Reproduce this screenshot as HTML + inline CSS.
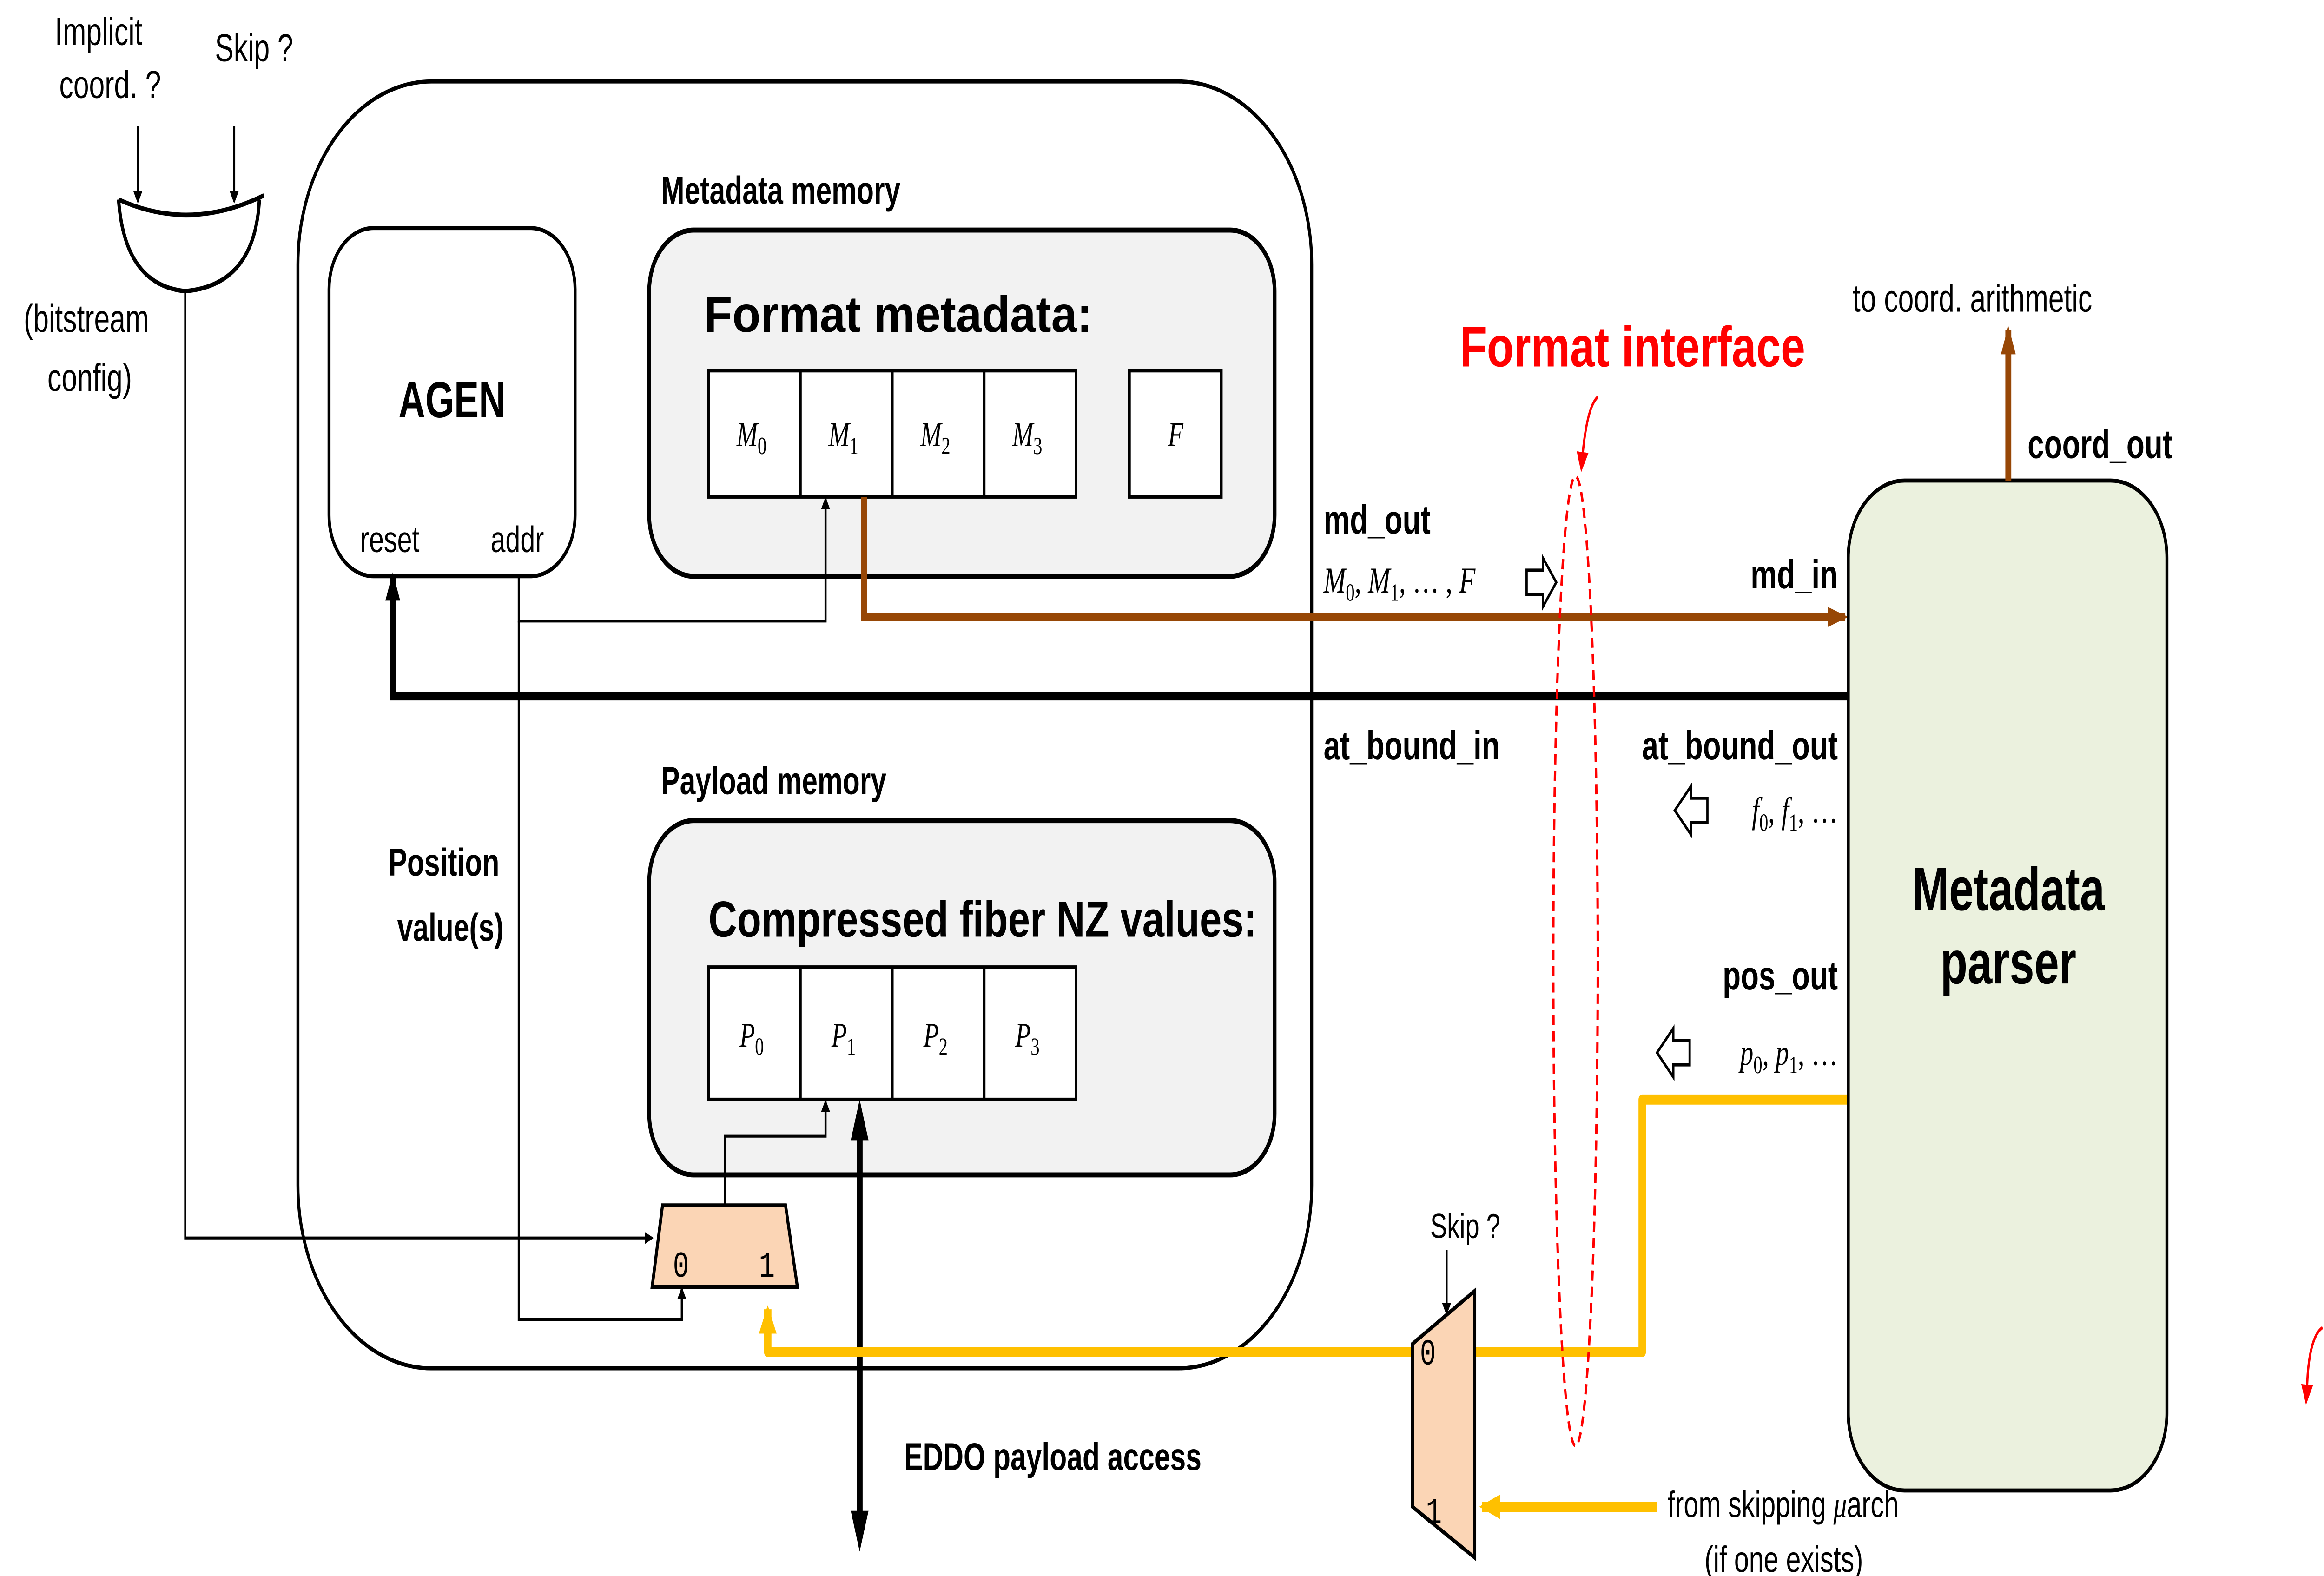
<!DOCTYPE html>
<html><head><meta charset="utf-8"><style>html,body{margin:0;padding:0;background:#fff;overflow:hidden;width:100%;height:100%}svg{display:block;width:100vw;height:100vh}</style></head>
<body>
<svg viewBox="0 0 1568 774" preserveAspectRatio="none" xmlns="http://www.w3.org/2000/svg" font-family="Liberation Sans, sans-serif">
<defs>
<marker id="ak" markerWidth="6" markerHeight="6" refX="5" refY="3" orient="auto" markerUnits="userSpaceOnUse" viewBox="0 0 6 6"><path d="M0,0 L6,3 L0,6 z" fill="#000"/></marker>
<marker id="akb" markerWidth="14" markerHeight="10" refX="12" refY="5" orient="auto" markerUnits="userSpaceOnUse"><path d="M0,0 L14,5 L0,10 z" fill="#000"/></marker>
<marker id="abr" markerWidth="14" markerHeight="10" refX="12" refY="5" orient="auto" markerUnits="userSpaceOnUse"><path d="M0,0 L14,5 L0,10 z" fill="#974706"/></marker>
<marker id="ay" markerWidth="14" markerHeight="12" refX="12" refY="6" orient="auto" markerUnits="userSpaceOnUse"><path d="M0,0 L14,6 L0,12 z" fill="#ffc000"/></marker>
<marker id="ar" markerWidth="10" markerHeight="8" refX="8" refY="4" orient="auto" markerUnits="userSpaceOnUse"><path d="M0,0 L10,4 L0,8 z" fill="#f00"/></marker>
</defs>

<text x="37" y="22" font-size="19">Implicit</text>
<text x="40" y="48" font-size="19">coord. ?</text>
<text x="145" y="30" font-size="19">Skip ?</text>
<line x1="93" y1="62" x2="93" y2="99" stroke="#000" stroke-width="1.4" marker-end="url(#ak)"/>
<line x1="158" y1="62" x2="158" y2="99" stroke="#000" stroke-width="1.4" marker-end="url(#ak)"/>
<path d="M80,98 Q128,114 178,96 M80,98 Q84,140 125,143 Q172,140 175,98" fill="none" stroke="#000" stroke-width="2.2"/>
<text x="16" y="163" font-size="19">(bitstream</text>
<text x="32" y="192" font-size="19">config)</text>
<polyline points="125,143 125,608 440,608" fill="none" stroke="#000" stroke-width="1.4" marker-end="url(#ak)"/>

<rect x="201" y="40" width="684" height="632" rx="90" ry="90" fill="none" stroke="#000" stroke-width="2"/>

<rect x="222" y="112" width="166" height="171" rx="30" fill="#fff" stroke="#000" stroke-width="2"/>
<text x="305" y="205" font-size="25" font-weight="bold" text-anchor="middle">AGEN</text>
<text x="243" y="271" font-size="18">reset</text>
<text x="331" y="271" font-size="18">addr</text>

<text x="446" y="100" font-size="19" font-weight="bold">Metadata memory</text>
<rect x="438" y="113" width="422" height="170" rx="30" fill="#f2f2f2" stroke="#000" stroke-width="2.5"/>
<text x="475" y="163" font-size="25" font-weight="bold" textLength="262" lengthAdjust="spacingAndGlyphs">Format metadata:</text>
<g stroke="#000" stroke-width="1.8" fill="#fff">
<rect x="478" y="182" width="248" height="62"/>
<line x1="540" y1="182" x2="540" y2="244"/><line x1="602" y1="182" x2="602" y2="244"/><line x1="664" y1="182" x2="664" y2="244"/>
<rect x="762" y="182" width="62" height="62"/>
</g>
<g font-family="Liberation Serif, serif" font-style="italic" font-size="17">
<text x="497" y="219">M<tspan font-size="12" font-style="normal" dy="4">0</tspan></text>
<text x="559" y="219">M<tspan font-size="12" font-style="normal" dy="4">1</tspan></text>
<text x="621" y="219">M<tspan font-size="12" font-style="normal" dy="4">2</tspan></text>
<text x="683" y="219">M<tspan font-size="12" font-style="normal" dy="4">3</tspan></text>
<text x="788" y="219">F</text>
</g>

<text x="446" y="390" font-size="19" font-weight="bold">Payload memory</text>
<rect x="438" y="403" width="422" height="174" rx="30" fill="#f2f2f2" stroke="#000" stroke-width="2.5"/>
<text x="478" y="460" font-size="25" font-weight="bold" textLength="370" lengthAdjust="spacingAndGlyphs">Compressed fiber NZ values:</text>
<g stroke="#000" stroke-width="1.8" fill="#fff">
<rect x="478" y="475" width="248" height="65"/>
<line x1="540" y1="475" x2="540" y2="540"/><line x1="602" y1="475" x2="602" y2="540"/><line x1="664" y1="475" x2="664" y2="540"/>
</g>
<g font-family="Liberation Serif, serif" font-style="italic" font-size="17">
<text x="499" y="514">P<tspan font-size="12" font-style="normal" dy="4">0</tspan></text>
<text x="561" y="514">P<tspan font-size="12" font-style="normal" dy="4">1</tspan></text>
<text x="623" y="514">P<tspan font-size="12" font-style="normal" dy="4">2</tspan></text>
<text x="685" y="514">P<tspan font-size="12" font-style="normal" dy="4">3</tspan></text>
</g>

<text x="262" y="430" font-size="19" font-weight="bold">Position</text>
<text x="268" y="462" font-size="19" font-weight="bold">value(s)</text>

<polyline points="350,283 350,305 557,305 557,245" fill="none" stroke="#000" stroke-width="1.4" marker-end="url(#ak)"/>
<polyline points="350,305 350,648 460,648 460,633" fill="none" stroke="#000" stroke-width="1.4" marker-end="url(#ak)"/>

<polyline points="583,244 583,303 1245,303" fill="none" stroke="#974706" stroke-width="4" marker-end="url(#abr)"/>
<polyline points="1247,342 265,342 265,283" fill="none" stroke="#000" stroke-width="4" marker-end="url(#akb)"/>

<polygon points="447,592 530,592 538,632 440,632" fill="#fbd5b5" stroke="#000" stroke-width="2"/>
<text x="454" y="627" font-size="18" font-family="Liberation Mono, monospace">0</text>
<text x="512" y="627" font-size="18" font-family="Liberation Mono, monospace">1</text>
<polyline points="489,592 489,558 557,558 557,541" fill="none" stroke="#000" stroke-width="1.4" marker-end="url(#ak)"/>

<line x1="580" y1="556" x2="580" y2="745" stroke="#000" stroke-width="4"/>
<path d="M580,540 L574,560 L586,560 z M580,762 L574,742 L586,742 z" fill="#000"/>
<text x="610" y="722" font-size="19" font-weight="bold">EDDO payload access</text>

<polyline points="1247,540 1108,540 1108,664 518,664 518,643" fill="none" stroke="#ffc000" stroke-width="5" stroke-linejoin="round" marker-end="url(#ay)"/>
<line x1="1118" y1="740" x2="1000" y2="740" stroke="#ffc000" stroke-width="5" marker-end="url(#ay)"/>

<polygon points="953,660 995,634 995,765 953,740" fill="#fbd5b5" stroke="#000" stroke-width="2"/>
<text x="958" y="670" font-size="18" font-family="Liberation Mono, monospace">0</text>
<text x="962" y="748" font-size="18" font-family="Liberation Mono, monospace">1</text>
<text x="965" y="608" font-size="17">Skip ?</text>
<line x1="976" y1="614" x2="976" y2="645" stroke="#000" stroke-width="1.4" marker-end="url(#ak)"/>

<rect x="1247" y="236" width="215" height="496" rx="38" fill="#ebf1de" stroke="#000" stroke-width="2"/>
<text x="1125" y="745" font-size="18">from skipping <tspan font-family="Liberation Serif, serif" font-style="italic">μ</tspan>arch</text>
<text x="1150" y="772" font-size="18">(if one exists)</text>
<text x="1355" y="447" font-size="30" font-weight="bold" text-anchor="middle">Metadata</text>
<text x="1355" y="483" font-size="30" font-weight="bold" text-anchor="middle">parser</text>
<line x1="1355" y1="236" x2="1355" y2="162" stroke="#974706" stroke-width="4" marker-end="url(#abr)"/>
<text x="1250" y="153" font-size="19">to coord. arithmetic</text>
<text x="1368" y="225" font-size="20" font-weight="bold">coord_out</text>

<text x="985" y="180" font-size="28" font-weight="bold" fill="#f00" textLength="233" lengthAdjust="spacingAndGlyphs">Format interface</text>
<path d="M1078,195 Q1070,200 1067,230" fill="none" stroke="#f00" stroke-width="1.5" marker-end="url(#ar)"/>
<ellipse cx="1063" cy="472" rx="15" ry="238" fill="none" stroke="#f00" stroke-width="1.6" stroke-dasharray="5,3"/>

<text x="893" y="262" font-size="20" font-weight="bold">md_out</text>
<text x="893" y="291" font-size="18" font-family="Liberation Serif, serif" font-style="italic">M<tspan font-size="12" font-style="normal" dy="4">0</tspan><tspan dy="-4">, M</tspan><tspan font-size="12" font-style="normal" dy="4">1</tspan><tspan dy="-4" font-style="normal">, … , </tspan>F</text>
<path d="M1030,280 L1041,280 L1041,274 L1050,286 L1041,298 L1041,292 L1030,292 z" fill="#fff" stroke="#000" stroke-width="1.5"/>
<text x="1240" y="289" font-size="20" font-weight="bold" text-anchor="end">md_in</text>
<text x="893" y="373" font-size="20" font-weight="bold">at_bound_in</text>
<text x="1240" y="373" font-size="20" font-weight="bold" text-anchor="end">at_bound_out</text>
<path d="M1152,392 L1141,392 L1141,386 L1130,398 L1141,410 L1141,404 L1152,404 z" fill="#fff" stroke="#000" stroke-width="1.5"/>
<text x="1240" y="404" font-size="18" font-family="Liberation Serif, serif" font-style="italic" text-anchor="end">f<tspan font-size="12" font-style="normal" dy="4">0</tspan><tspan dy="-4" font-style="normal">, </tspan>f<tspan font-size="12" font-style="normal" dy="4">1</tspan><tspan dy="-4" font-style="normal">, …</tspan></text>
<text x="1240" y="486" font-size="20" font-weight="bold" text-anchor="end">pos_out</text>
<path d="M1140,511 L1129,511 L1129,505 L1118,517 L1129,529 L1129,523 L1140,523 z" fill="#fff" stroke="#000" stroke-width="1.5"/>
<text x="1240" y="523" font-size="18" font-family="Liberation Serif, serif" font-style="italic" text-anchor="end">p<tspan font-size="12" font-style="normal" dy="4">0</tspan><tspan dy="-4" font-style="normal">, </tspan>p<tspan font-size="12" font-style="normal" dy="4">1</tspan><tspan dy="-4" font-style="normal">, …</tspan></text>

<path d="M1567,652 Q1559,656 1557,675 L1556,688" fill="none" stroke="#f00" stroke-width="1.5" marker-end="url(#ar)"/>
</svg>
</body></html>
